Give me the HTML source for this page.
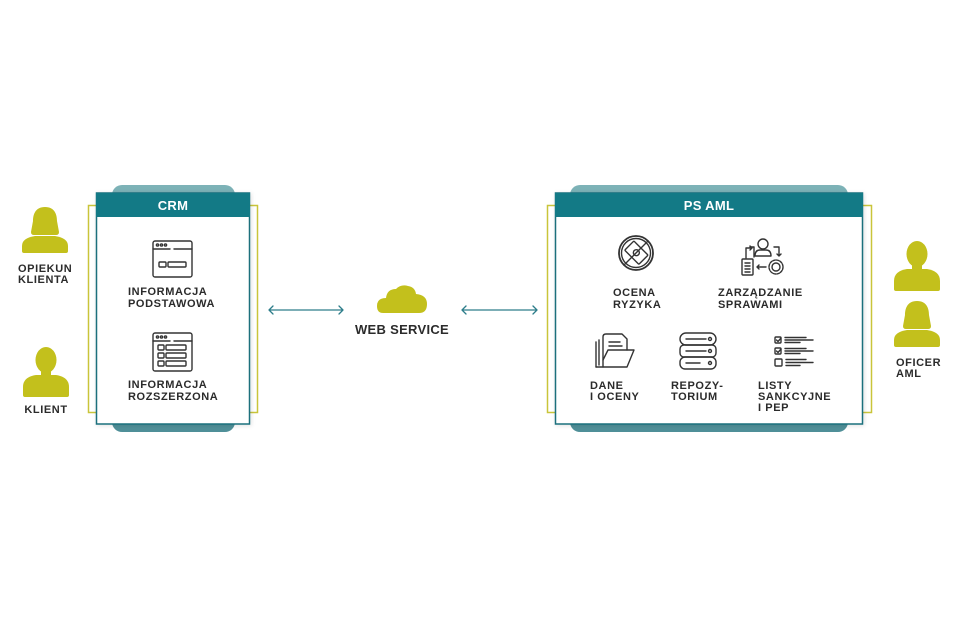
<!DOCTYPE html>
<html><head><meta charset="utf-8"><style>
html,body{margin:0;padding:0;background:#fff;}
svg{display:block;}
text{font-family:"Liberation Sans",sans-serif;}
.lb{font-weight:700;font-size:11px;letter-spacing:0.6px;fill:#2b2b2b;}
.ic{fill:none;stroke:#333;stroke-width:1.4;stroke-linecap:round;stroke-linejoin:round;}
</style></head><body>
<svg width="960" height="619" viewBox="0 0 960 619" xmlns="http://www.w3.org/2000/svg">
<defs>
  <filter id="sh" x="-10%" y="-10%" width="120%" height="120%">
    <feDropShadow dx="1" dy="1" stdDeviation="2" flood-color="#000" flood-opacity="0.12"/>
  </filter>
  <linearGradient id="pg" x1="0" y1="0" x2="0" y2="1">
    <stop offset="0" stop-color="#7db2b7"/>
    <stop offset="1" stop-color="#4f8f98"/>
  </linearGradient>
  <g id="male">
    <ellipse cx="23" cy="13" rx="10.5" ry="13"/>
    <rect x="18" y="22" width="10" height="8"/>
    <path d="M0,48 L0,40 Q0,30 13,28 L33,28 Q46,30 46,40 L46,48 Q46,50 44,50 L2,50 Q0,50 0,48 Z"/>
  </g>
  <g id="female">
    <path d="M23,0 C13,0 11,8 11,14 L9,25 Q9,28 12,28 L34,28 Q37,28 37,25 L35,14 C35,8 33,0 23,0 Z"/>
    <path d="M0,44 L0,39 Q0,31 13,29 L33,29 Q46,31 46,39 L46,44 Q46,46 44,46 L2,46 Q0,46 0,44 Z"/>
  </g>
</defs>

<rect width="960" height="619" fill="#fff"/>

<!-- CRM -->
<rect x="112" y="185" width="123" height="247" rx="10" fill="url(#pg)"/>
<rect x="88.5" y="205.5" width="169" height="207" fill="#fff" stroke="#c9c53a" stroke-width="1.5"/>
<rect x="96.5" y="193" width="153" height="231" fill="#fff" stroke="#1a6f7c" stroke-width="1.5" filter="url(#sh)"/>
<rect x="96" y="193" width="154" height="24" fill="#137a86"/>
<text x="173" y="210" text-anchor="middle" font-weight="700" font-size="13" fill="#fff" letter-spacing="0.3">CRM</text>

<!-- CRM icon 1 -->
<g class="ic">
  <rect x="153" y="241" width="39" height="36" rx="2"/>
  <path d="M153,249 H170 M174,249 H192"/>
  <circle cx="157.5" cy="245" r="1.1"/><circle cx="161.5" cy="245" r="1.1"/><circle cx="165.5" cy="245" r="1.1"/>
  <rect x="159" y="262" width="7" height="5" rx="1"/>
  <rect x="168" y="262" width="18" height="5" rx="1"/>
</g>
<text class="lb" x="128" y="295">INFORMACJA</text>
<text class="lb" x="128" y="307">PODSTAWOWA</text>

<!-- CRM icon 2 -->
<g class="ic">
  <rect x="153" y="333" width="39" height="38" rx="2"/>
  <path d="M153,341 H170 M174,341 H192"/>
  <circle cx="157.5" cy="337" r="1.1"/><circle cx="161.5" cy="337" r="1.1"/><circle cx="165.5" cy="337" r="1.1"/>
  <rect x="158" y="345" width="6" height="5" rx="1"/><rect x="166" y="345" width="20" height="5" rx="1"/>
  <rect x="158" y="353" width="6" height="5" rx="1"/><rect x="166" y="353" width="20" height="5" rx="1"/>
  <rect x="158" y="361" width="6" height="5" rx="1"/><rect x="166" y="361" width="20" height="5" rx="1"/>
</g>
<text class="lb" x="128" y="388">INFORMACJA</text>
<text class="lb" x="128" y="400">ROZSZERZONA</text>

<!-- persons left -->
<g fill="#c3c01c">
  <use href="#female" transform="translate(22,207)"/>
  <use href="#male" transform="translate(23,347)"/>
  <use href="#male" transform="translate(894,241)"/>
  <use href="#female" transform="translate(894,301)"/>
</g>
<text class="lb" x="18" y="272">OPIEKUN</text>
<text class="lb" x="18" y="283">KLIENTA</text>
<text class="lb" x="46" y="413" text-anchor="middle">KLIENT</text>
<text class="lb" x="896" y="366">OFICER</text>
<text class="lb" x="896" y="377">AML</text>

<!-- arrows -->
<g fill="none" stroke="#2d7d8a" stroke-width="1.3" stroke-linecap="round" stroke-linejoin="round">
  <path d="M269,310 H343 M273,306 L269,310 L273,314 M339,306 L343,310 L339,314"/>
  <path d="M462,310 H537 M466,306 L462,310 L466,314 M533,306 L537,310 L533,314"/>
</g>

<!-- cloud -->
<path d="M383,313 Q377,313 377,306 Q377,298 386,298 Q387,289 396,289 Q401,284 408,286 Q415,287 416,294 Q427,295 427,304 Q427,313 419,313 Z" fill="#c3c01c"/>
<text x="402" y="334" text-anchor="middle" font-weight="700" font-size="13" fill="#2b2b2b" letter-spacing="0.3">WEB SERVICE</text>

<!-- PS AML -->
<rect x="570" y="185" width="278" height="247" rx="10" fill="url(#pg)"/>
<rect x="547.5" y="205.5" width="324" height="207" fill="#fff" stroke="#c9c53a" stroke-width="1.5"/>
<rect x="555.5" y="193" width="307" height="231" fill="#fff" stroke="#1a6f7c" stroke-width="1.5" filter="url(#sh)"/>
<rect x="555" y="193" width="308" height="24" fill="#137a86"/>
<text x="709" y="210" text-anchor="middle" font-weight="700" font-size="13" fill="#fff" letter-spacing="0.3">PS AML</text>

<!-- Ocena icon -->
<g class="ic">
  <circle cx="636" cy="253" r="17" stroke-width="1.8"/>
  <circle cx="636" cy="253" r="14.5"/>
  <g transform="rotate(45 636 253)">
    <rect x="626" y="246" width="20" height="13" rx="1"/>
    <circle cx="636" cy="252.5" r="3"/>
  </g>
  <path d="M648,241 L624,265"/>
</g>
<text class="lb" x="613" y="296">OCENA</text>
<text class="lb" x="613" y="308">RYZYKA</text>

<!-- Zarzadzanie icon -->
<g class="ic">
  <circle cx="763" cy="244" r="5"/>
  <path d="M755,256 Q755,250 760,250 L766,250 Q771,250 771,256 Z"/>
  <path d="M754,257 V247 H750" />
  <path d="M746,258 V248 H752 M750,246 L752,248 L750,250"/>
  <path d="M774,247 H779 V256 M777,254 L779,256 L781,254"/>
  <rect x="742" y="259" width="11" height="16" rx="1"/>
  <path d="M745,263 H750 M745,266 H750 M745,269 H750 M745,272 H750"/>
  <path d="M766,267 H757 M759,265 L757,267 L759,269"/>
  <circle cx="776" cy="267" r="4"/>
  <circle cx="776" cy="267" r="7" stroke-dasharray="2.5 1.2"/>
</g>
<text class="lb" x="718" y="296">ZARZĄDZANIE</text>
<text class="lb" x="718" y="308">SPRAWAMI</text>

<!-- Folder icon -->
<g class="ic">
  <path d="M603,367 V337 Q603,334 606,334 L622,334 L627,339 V350"/>
  <path d="M609,342 H620 M609,346 H622"/>
  <path d="M599,365 V340"/>
  <path d="M596,367 V342"/>
  <path d="M596,367 L627,367 L634,350 L608,350 L603,360"/>
</g>
<text class="lb" x="590" y="389">DANE</text>
<text class="lb" x="590" y="400">I OCENY</text>

<!-- Repository icon -->
<g class="ic">
  <rect x="680" y="333" width="36" height="12" rx="6"/>
  <rect x="680" y="345" width="36" height="12" rx="4"/>
  <rect x="680" y="357" width="36" height="12" rx="5"/>
  <path d="M686,339 H706 M686,351 H706 M686,363 H700"/>
  <circle cx="710" cy="339" r="1.5"/><circle cx="710" cy="351" r="1.5"/><circle cx="710" cy="363" r="1.5"/>
</g>
<text class="lb" x="671" y="389">REPOZY-</text>
<text class="lb" x="671" y="400">TORIUM</text>

<!-- Listy icon -->
<g class="ic">
  <rect x="775" y="337" width="6" height="6" rx="1"/>
  <path d="M776.5,340 L778,341.5 L781,338"/>
  <path d="M785,337.5 H806 M785,340 H813 M785,342.5 H800"/>
  <rect x="775" y="348" width="6" height="6" rx="1"/>
  <path d="M776.5,351 L778,352.5 L781,349"/>
  <path d="M785,348.5 H806 M785,351 H813 M785,353.5 H800"/>
  <rect x="775" y="359" width="7" height="7" rx="1"/>
  <path d="M786,359.5 H806 M786,362.5 H813 M786,365.5 H800"/>
</g>
<text class="lb" x="758" y="389">LISTY</text>
<text class="lb" x="758" y="400">SANKCYJNE</text>
<text class="lb" x="758" y="411">I PEP</text>
</svg>
</body></html>
